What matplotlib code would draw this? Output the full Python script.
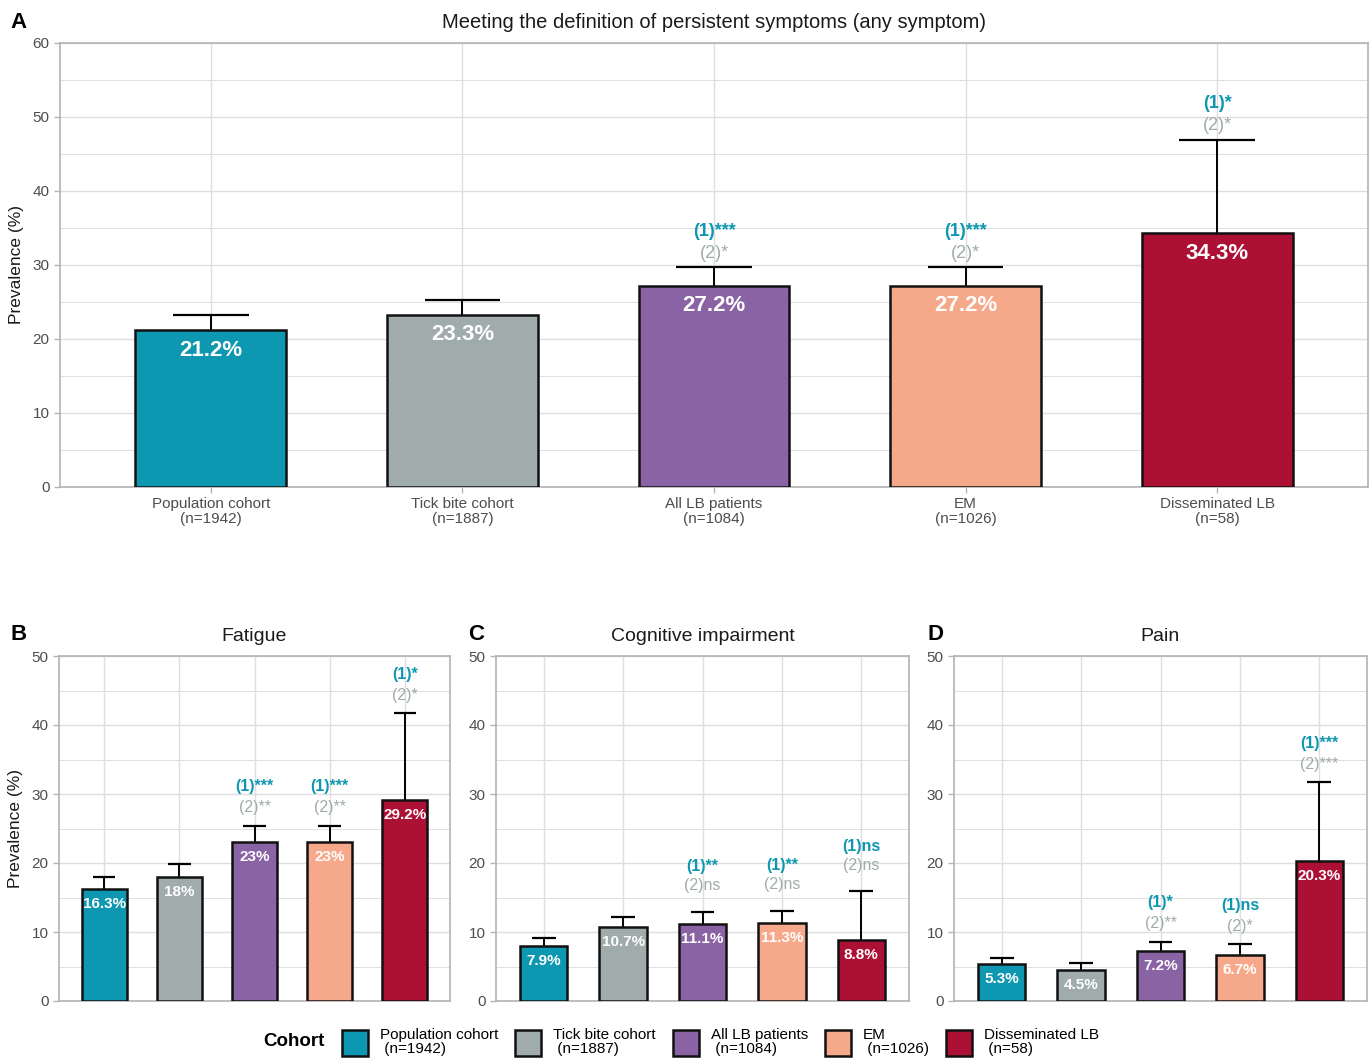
import matplotlib
matplotlib.use("Agg")
import matplotlib.pyplot as plt
from matplotlib.patches import Patch
from matplotlib.ticker import MultipleLocator
import numpy as np

plt.rcParams["font.family"] = ["Liberation Sans", "DejaVu Sans"]

# Cohorts
cohorts = ["Population cohort", "Tick bite cohort", "All LB patients", "EM", "Disseminated LB"]
cohort_n = ["(n=1942)", "(n=1887)", "(n=1084)", "(n=1026)", "(n=58)"]
colors = ["#0E97B0", "#9FACAB", "#8A63A5", "#F6A98A", "#AD1035"]

# Any symptom
any_prev = [21.2, 23.3, 27.2, 27.2, 34.3]
any_upper = [23.2, 25.3, 29.7, 29.7, 46.9]
any_sig1 = ["", "", "***", "***", "*"]
any_sig2 = ["", "", "*", "*", "*"]

# Fatigue
fat_prev = [16.3, 18, 23, 23, 29.2]
fat_upper = [18.0, 19.8, 25.4, 25.4, 41.7]
fat_sig1 = ["", "", "***", "***", "*"]
fat_sig2 = ["", "", "**", "**", "*"]

# Cognitive impairment
cog_prev = [7.9, 10.7, 11.1, 11.3, 8.8]
cog_upper = [9.2, 12.2, 12.9, 13.1, 15.9]
cog_sig1 = ["", "", "**", "**", "ns"]
cog_sig2 = ["", "", "ns", "ns", "ns"]

# Pain
pain_prev = [5.3, 4.5, 7.2, 6.7, 20.3]
pain_upper = [6.3, 5.5, 8.6, 8.2, 31.7]
pain_sig1 = ["", "", "*", "ns", "***"]
pain_sig2 = ["", "", "**", "*", "***"]

TEAL = colors[0]
GREY = colors[1]
TXT = "#4D4D4D"
GRID = "#DEDEDE"
BORDER = "#B3B3B3"


def fmt_pct(v):
    return f"{v:g}%"


def draw_panel(ax, prev, upper, sig1, sig2, title, ymax, xlabels,
               val_size, val_off, ann_size, off2, off1, ylabel, title_size):
    x = np.arange(len(prev))
    ax.set_xlim(-0.6, len(prev) - 0.4)
    ax.set_ylim(0, ymax)
    ax.yaxis.set_major_locator(MultipleLocator(10))
    ax.yaxis.set_minor_locator(MultipleLocator(5))
    ax.grid(True, which="major", color=GRID, linewidth=1.0)
    ax.grid(True, which="minor", axis="y", color=GRID, linewidth=0.7)
    ax.set_axisbelow(True)
    for sp in ax.spines.values():
        sp.set_color(BORDER)
        sp.set_linewidth(1.2)

    # error bars (upper whisker only; bar hides the lower half)
    for xi, p, u in zip(x, prev, upper):
        ax.plot([xi, xi], [p, u], color="black", lw=1.4, zorder=2)
        ax.plot([xi - 0.15, xi + 0.15], [u, u], color="black", lw=1.6,
                zorder=2, solid_capstyle="butt")
    ax.bar(x, prev, width=0.6, color=colors, edgecolor="#111111",
           linewidth=1.8, zorder=3)

    for xi, p in zip(x, prev):
        ax.annotate(fmt_pct(p), (xi, p), xytext=(0, -val_off),
                    textcoords="offset pixels", ha="center", va="center",
                    color="white", fontweight="bold", fontsize=val_size,
                    zorder=4)
    for xi, u, s1, s2 in zip(x, upper, sig1, sig2):
        if s1:
            ax.annotate("(1)" + s1, (xi, u), xytext=(0, off1),
                        textcoords="offset pixels", ha="center", va="center",
                        color=TEAL, fontweight="bold", fontsize=ann_size)
        if s2:
            ax.annotate("(2)" + s2, (xi, u), xytext=(0, off2),
                        textcoords="offset pixels", ha="center", va="center",
                        color=GREY, fontsize=ann_size)

    ax.tick_params(axis="y", which="major", colors=BORDER, labelcolor=TXT,
                   labelsize=11, length=4, width=1)
    ax.tick_params(axis="y", which="minor", length=0)
    ax.set_xticks(x)
    if xlabels:
        ax.set_xticklabels(xlabels, color=TXT, fontsize=11, linespacing=1.1)
        ax.tick_params(axis="x", colors=BORDER, labelcolor=TXT, length=4,
                       width=1, pad=3)
    else:
        ax.set_xticklabels([])
        ax.tick_params(axis="x", length=0)
    if ylabel:
        ax.set_ylabel("Prevalence (%)", fontsize=12.5, color="#1A1A1A",
                      labelpad=6)
    ax.set_title(title, fontsize=title_size, color="#1A1A1A", pad=11)


fig = plt.figure(figsize=(13.71, 10.59), dpi=100)
W, H = 1371, 1059


def axes_px(left, top, right, bottom):
    return fig.add_axes([left / W, 1 - bottom / H, (right - left) / W,
                         (bottom - top) / H])


axA = axes_px(60, 43, 1368, 487)
axB = axes_px(59, 656, 450, 1001)
axC = axes_px(496, 656, 909, 1001)
axD = axes_px(954, 656, 1367, 1001)

xlabA = [f"{c}\n{n}" for c, n in zip(cohorts, cohort_n)]
draw_panel(axA, any_prev, any_upper, any_sig1, any_sig2,
           "Meeting the definition of persistent symptoms (any symptom)",
           60, xlabA, 16, 20, 13, 14, 36, True, 14.5)
draw_panel(axB, fat_prev, fat_upper, fat_sig1, fat_sig2, "Fatigue",
           50, None, 11, 15, 11.5, 18, 39, True, 14)
draw_panel(axC, cog_prev, cog_upper, cog_sig1, cog_sig2,
           "Cognitive impairment", 50, None, 11, 15, 11.5, 26, 45, False, 14)
draw_panel(axD, pain_prev, pain_upper, pain_sig1, pain_sig2, "Pain",
           50, None, 11, 15, 11.5, 18, 39, False, 14)

# panel letters
for lx, ly, lt in [(10, 22, "A"), (10, 634, "B"), (468, 634, "C"),
                   (928, 634, "D")]:
    fig.text(lx / W, 1 - ly / H, lt, fontsize=16, fontweight="bold",
             ha="left", va="center")

# legend
handles = [Patch(facecolor=c, edgecolor="#111111", linewidth=1.8)
           for c in colors]
labels = [f"{c}\n {n}" for c, n in zip(cohorts, cohort_n)]
leg = fig.legend(handles, labels, loc="center left", ncol=5,
                 bbox_to_anchor=(328 / W, 1 - 1042 / H), frameon=False,
                 fontsize=11, handlelength=1.7, handleheight=2.2,
                 handletextpad=0.8, columnspacing=1.1, labelspacing=0.2)
for t in leg.get_texts():
    t.set_linespacing(0.95)
fig.text(263 / W, 1 - 1042 / H, "Cohort", fontsize=13.5, fontweight="bold",
         ha="left", va="center")

fig.savefig("out.png", dpi=100)
